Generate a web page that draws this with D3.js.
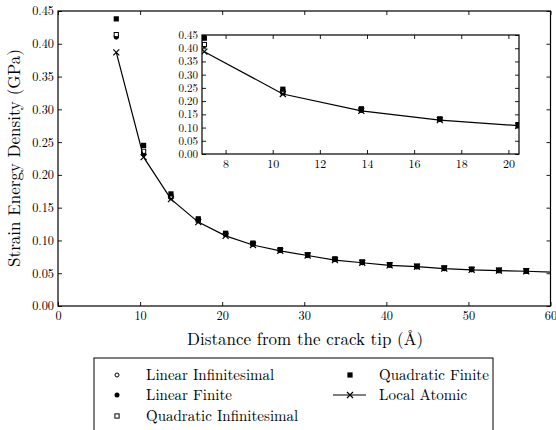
<!DOCTYPE html>
<html><head><meta charset="utf-8">
<script src="https://cdn.jsdelivr.net/npm/d3@7"></script>
<style>
body{margin:0;background:#fff;}
svg{display:block;}
</style></head>
<body><svg id="c" width="556" height="430"></svg>
<script>
// ---- data ----
const distX = [7.10, 10.43, 13.76, 17.09, 20.42, 23.75, 27.08, 30.41, 33.74, 37.07, 40.40, 43.73, 47.06, 50.39, 53.72, 57.05];
const atomicX = [7.10, 10.43, 13.76, 17.09, 20.42, 23.75, 27.08, 30.41, 33.74, 37.07, 40.40, 43.73, 47.06, 50.39, 53.72, 57.05, 60.38];
const localAtomic = [0.387, 0.227, 0.163, 0.128, 0.107, 0.093, 0.084, 0.077, 0.070, 0.066, 0.062, 0.060, 0.057, 0.055, 0.054, 0.053, 0.0515];
const quadraticFinite = [0.438, 0.245, 0.171, 0.133, 0.111, 0.096, 0.086, 0.078, 0.072, 0.067, 0.063, 0.061, 0.058, 0.056, 0.055, 0.054];
const quadraticInf = [0.414, 0.236, 0.167, 0.131, 0.110, 0.095, 0.085, 0.078, 0.071, 0.067, 0.063, 0.060, 0.058, 0.056, 0.054, 0.053];
const linearFinite = [0.411, 0.232, 0.166, 0.130, 0.109, 0.095, 0.085, 0.077, 0.071, 0.066, 0.063, 0.060, 0.057, 0.056, 0.054, 0.053];
const linearInf = [0.410, 0.231, 0.165, 0.130, 0.109, 0.094, 0.085, 0.077, 0.071, 0.066, 0.062, 0.060, 0.057, 0.055, 0.054, 0.053];
const mainXTicks = [0, 10, 20, 30, 40, 50, 60];
const yTicks = [0.00, 0.05, 0.10, 0.15, 0.20, 0.25, 0.30, 0.35, 0.40, 0.45];
const insetXTicks = [8, 10, 12, 14, 16, 18, 20];
const legendLabels = ["Linear Infinitesimal", "Linear Finite", "Quadratic Infinitesimal", "Quadratic Finite", "Local Atomic"];
const xLabel = "Distance from the crack tip (Å)";
const yLabel = "Strain Energy Density (GPa)";

const svg = d3.select("#c");
const fmt = d3.format(".2f");
const FONT = '"Latin Modern Roman","Liberation Serif",serif';

const series = [
  {name: legendLabels[0], ys: linearInf, type: "circleOpen"},
  {name: legendLabels[1], ys: linearFinite, type: "circleFilled"},
  {name: legendLabels[2], ys: quadraticInf, type: "squareOpen"},
  {name: legendLabels[3], ys: quadraticFinite, type: "squareFilled"}
];

function drawMarker(g, type, cx, cy) {
  if (type === "circleOpen") {
    g.append("circle").attr("cx", cx).attr("cy", cy).attr("r", 2.0).attr("fill", "#fff").attr("stroke", "#000").attr("stroke-width", 1);
  } else if (type === "circleFilled") {
    g.append("circle").attr("cx", cx).attr("cy", cy).attr("r", 2.5).attr("fill", "#000");
  } else if (type === "squareOpen") {
    g.append("rect").attr("x", cx - 2.1).attr("y", cy - 2.1).attr("width", 4.2).attr("height", 4.2).attr("fill", "#fff").attr("stroke", "#000").attr("stroke-width", 1);
  } else if (type === "squareFilled") {
    g.append("rect").attr("x", cx - 2.6).attr("y", cy - 2.6).attr("width", 5.2).attr("height", 5.2).attr("fill", "#000");
  } else if (type === "cross") {
    const s = 3;
    g.append("path").attr("d", `M${cx - s},${cy - s}L${cx + s},${cy + s}M${cx - s},${cy + s}L${cx + s},${cy - s}`).attr("stroke", "#000").attr("stroke-width", 1.2);
  }
}

function panel(opts) {
  const {x0, x1, y0, y1, xDomain, xTicks, id, fontSize, yFontSize} = opts;
  const x = d3.scaleLinear().domain(xDomain).range([x0, x1]);
  const y = d3.scaleLinear().domain([0, 0.45]).range([y1, y0]);
  const g = svg.append("g");
  g.append("rect").attr("x", x0).attr("y", y0).attr("width", x1 - x0).attr("height", y1 - y0).attr("fill", "#fff");
  svg.append("defs").append("clipPath").attr("id", id).append("rect")
    .attr("x", x0).attr("y", y0).attr("width", x1 - x0).attr("height", y1 - y0);
  const plot = g.append("g").attr("clip-path", `url(#${id})`);
  series.forEach(s => {
    distX.forEach((dx, i) => drawMarker(plot, s.type, x(dx), y(s.ys[i])));
  });
  const line = d3.line().x((d, i) => x(atomicX[i])).y(d => y(d));
  plot.append("path").datum(localAtomic).attr("d", line).attr("fill", "none").attr("stroke", "#000").attr("stroke-width", 1.2);
  atomicX.forEach((dx, i) => drawMarker(plot, "cross", x(dx), y(localAtomic[i])));

  const tl = 4;
  const axB = g.append("g").attr("transform", `translate(0,${y1})`)
    .call(d3.axisBottom(x).tickValues(xTicks).tickSize(-tl).tickPadding(5).tickFormat(d3.format("d")));
  const axT = g.append("g").attr("transform", `translate(0,${y0})`)
    .call(d3.axisTop(x).tickValues(xTicks).tickSize(-tl).tickFormat(""));
  const axL = g.append("g").attr("transform", `translate(${x0},0)`)
    .call(d3.axisLeft(y).tickValues(yTicks).tickSize(-tl).tickPadding(4).tickFormat(fmt));
  const axR = g.append("g").attr("transform", `translate(${x1},0)`)
    .call(d3.axisRight(y).tickValues(yTicks).tickSize(-tl).tickFormat(""));
  [axB, axT, axL, axR].forEach(a => {
    const fs = (a === axL) ? yFontSize : fontSize;
    a.attr("font-family", FONT).attr("font-size", fs);
    a.select(".domain").remove();
    a.selectAll("line").attr("stroke", "#000").attr("stroke-width", 0.9);
    a.selectAll("text").attr("font-family", FONT).attr("font-size", fs).attr("fill", "#000");
  });
  g.append("rect").attr("x", x0).attr("y", y0).attr("width", x1 - x0).attr("height", y1 - y0)
    .attr("fill", "none").attr("stroke", "#000").attr("stroke-width", 1.2);
  return {x, y};
}

panel({x0: 58, x1: 550.5, y0: 11, y1: 306, xDomain: [0, 60], xTicks: mainXTicks, id: "clipMain", fontSize: 12.3, yFontSize: 12.3});
panel({x0: 202, x1: 519, y0: 35, y1: 154, xDomain: [7.0, 20.45], xTicks: insetXTicks, id: "clipInset", fontSize: 12, yFontSize: 11});

// axis labels
svg.append("text").attr("x", 305).attr("y", 345).attr("text-anchor", "middle")
  .attr("font-family", FONT).attr("font-size", 17).text(xLabel);
svg.append("text").attr("transform", "translate(20,158) rotate(-90)").attr("text-anchor", "middle")
  .attr("font-family", FONT).attr("font-size", 17).text(yLabel);

// legend
const lg = svg.append("g");
lg.append("rect").attr("x", 94).attr("y", 358).attr("width", 399).attr("height", 90)
  .attr("fill", "#fff").attr("stroke", "#000").attr("stroke-width", 1);
const legendPos = [
  {mx: 117, tx: 146, y: 375},
  {mx: 117, tx: 146, y: 395},
  {mx: 117, tx: 146, y: 416},
  {mx: 350, tx: 379, y: 375},
  {mx: 350, tx: 379, y: 395}
];
series.forEach((s, i) => drawMarker(lg, s.type, legendPos[i].mx, legendPos[i].y));
lg.append("line").attr("x1", 333).attr("x2", 366).attr("y1", legendPos[4].y).attr("y2", legendPos[4].y)
  .attr("stroke", "#000").attr("stroke-width", 1.1);
drawMarker(lg, "cross", legendPos[4].mx, legendPos[4].y);
legendLabels.forEach((t, i) => {
  lg.append("text").attr("x", legendPos[i].tx).attr("y", legendPos[i].y + 4.5)
    .attr("font-family", FONT).attr("font-size", 15).text(t);
});
</script></body></html>
